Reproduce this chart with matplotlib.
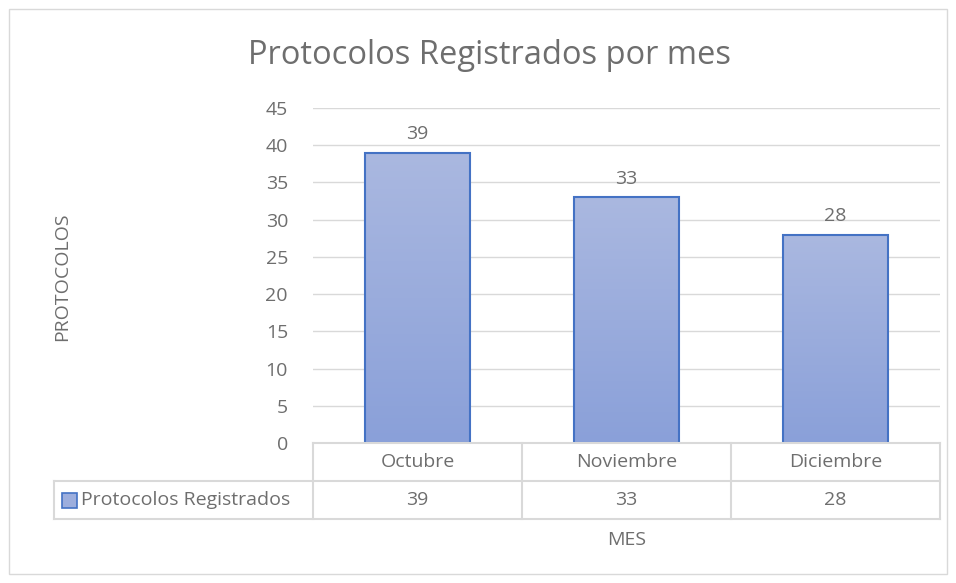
import matplotlib.pyplot as plt
import numpy as np
from matplotlib.patches import Rectangle
from matplotlib.lines import Line2D
from matplotlib.colors import LinearSegmentedColormap

meses = ["Octubre", "Noviembre", "Diciembre"]
protocolos = [39, 33, 28]
serie = "Protocolos Registrados"

W, H = 956, 583
gris = "#6E6E6E"
linea = "#D9D9D9"
fs = 14
plt.rcParams['font.family'] = ['Open Sans', 'DejaVu Sans']

fig = plt.figure(figsize=(W / 100, H / 100), dpi=100)

# marco exterior del grafico
fig.patches.append(Rectangle((9 / W, 9 / H), 938 / W, 565 / H, transform=fig.transFigure,
                             fill=False, edgecolor=linea, linewidth=1))

def fx(px):
    return px / W

def fy(py):
    return 1 - py / H

ax = fig.add_axes([fx(313), fy(443), fx(940) - fx(313), fy(108) - fy(443)])
x = np.arange(len(meses))
ax.set_yticks(range(0, 46, 5))
ax.yaxis.grid(True, color=linea, linewidth=1)
ax.set_axisbelow(True)
for s in ax.spines.values():
    s.set_visible(False)
ax.tick_params(axis="y", length=0, labelsize=fs, labelcolor=gris, pad=18)
ax.set_xticks([])

# barras con degradado
cmap = LinearSegmentedColormap.from_list("g", ["#8AA0D9", "#AAB8E0"])
grad = np.linspace(0, 1, 256).reshape(-1, 1)
bars = ax.bar(x, protocolos, width=0.505, color="none", edgecolor="#4472C4", linewidth=1.5, zorder=3)
for b, v in zip(bars, protocolos):
    im = ax.imshow(grad, cmap=cmap, origin="lower", aspect="auto", zorder=2,
                   extent=[b.get_x(), b.get_x() + b.get_width(), 0, v])
    im.set_clip_path(b)
    ax.text(b.get_x() + b.get_width() / 2, v + 1.3, str(v), ha="center", va="bottom",
            fontsize=fs, color=gris)
ax.set_xlim(-0.5, len(meses) - 0.5)
ax.set_ylim(0, 45)

# tabla de datos
y0, y1, y2 = fy(443), fy(481), fy(519)
xl, xa, xb = fx(54), fx(313), fx(940)
tf = fig.transFigure
def seg(xs, ys):
    fig.lines.append(Line2D(xs, ys, transform=tf, color=linea, linewidth=1.5))

seg([xa, xb], [y0, y0])
seg([xl, xb], [y1, y1])
seg([xl, xb], [y2, y2])
seg([xl, xl], [y1, y2])
step = (xb - xa) / len(meses)
for i in range(len(meses) + 1):
    seg([xa + i * step] * 2, [y0, y2])
for i, (m, v) in enumerate(zip(meses, protocolos)):
    cx = xa + (i + 0.5) * step
    fig.text(cx, (y0 + y1) / 2, m, ha="center", va="center", fontsize=fs, color=gris)
    fig.text(cx, (y1 + y2) / 2, str(v), ha="center", va="center", fontsize=fs, color=gris)
fig.patches.append(Rectangle((fx(62), fy(508)), fx(15), fy(493) - fy(508), transform=tf,
                             facecolor="#9DAEDD", edgecolor="#4472C4", linewidth=1.2))
fig.text(fx(81), (y1 + y2) / 2, serie, ha="left", va="center", fontsize=fs, color=gris)

fig.text(fx(627), fy(540), "MES", ha="center", va="center", fontsize=fs, color=gris)
fig.text(fx(62), fy(277), "PROTOCOLOS", ha="center", va="center", rotation=90,
         fontsize=fs, color=gris)
fig.text(fx(489), fy(55), "Protocolos Registrados por mes", ha="center", va="center",
         fontsize=23.5, color=gris)

fig.savefig("out.png", dpi=100)
